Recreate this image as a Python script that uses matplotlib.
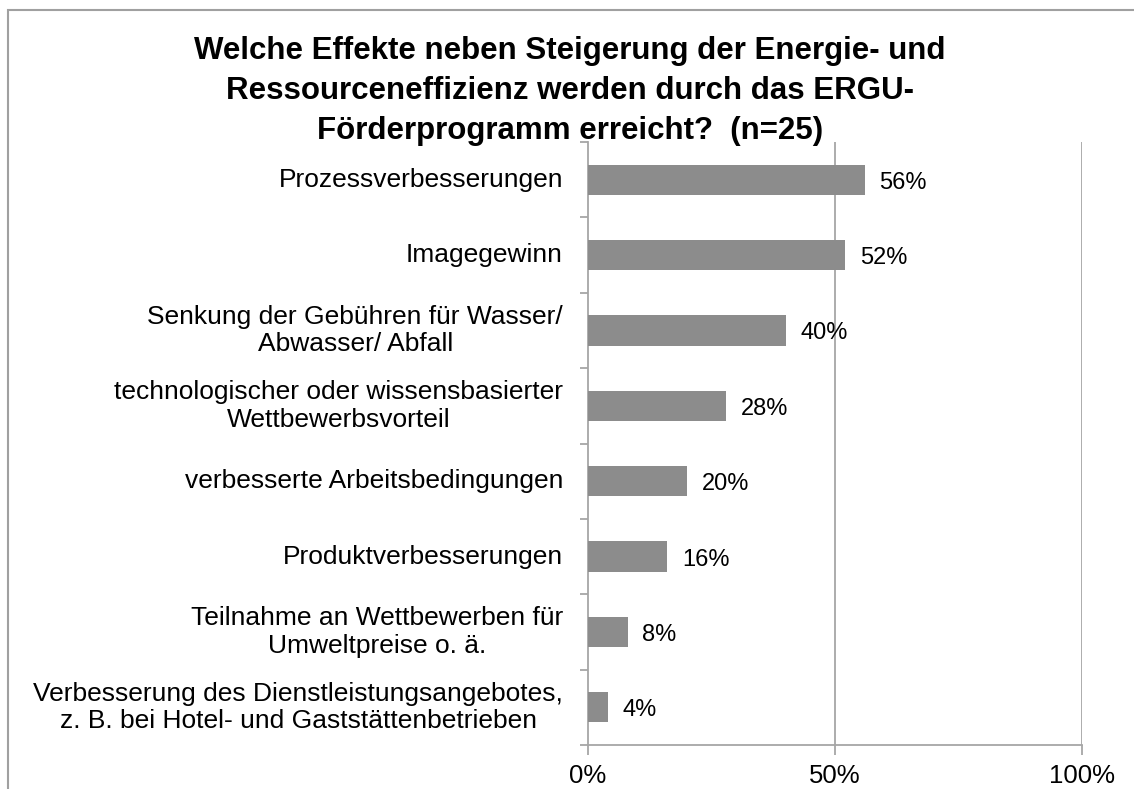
import matplotlib
matplotlib.use("Agg")
import matplotlib.pyplot as plt
from matplotlib.patches import Rectangle
from matplotlib.ticker import FixedLocator

categories = [
    "Prozessverbesserungen",
    "Imagegewinn",
    "Senkung der Gebühren für Wasser/\nAbwasser/ Abfall",
    "technologischer oder wissensbasierter\nWettbewerbsvorteil",
    "verbesserte Arbeitsbedingungen",
    "Produktverbesserungen",
    "Teilnahme an Wettbewerben für\nUmweltpreise o. ä.",
    "Verbesserung des Dienstleistungsangebotes,\nz. B. bei Hotel- und Gaststättenbetrieben",
]
values = [56, 52, 40, 28, 20, 16, 8, 4]
xticks = [0, 50, 100]
xticklabels = ["0%", "50%", "100%"]
title = ("Welche Effekte neben Steigerung der Energie- und\n"
         "Ressourceneffizienz werden durch das ERGU-\n"
         "Förderprogramm erreicht?  (n=25)")

plt.rcParams['font.family'] = ['Liberation Sans', 'DejaVu Sans']

W, H = 1134, 789
fig = plt.figure(figsize=(W / 100, H / 100), dpi=100)
ax = fig.add_axes([588 / W, 1 - 745 / H, (1082 - 588) / W, (745 - 142) / H])

n = len(categories)
ypos = list(range(n))
bar_color = "#8c8c8c"
grid_color = "#a6a6a6"

ax.barh(ypos, values, height=0.4, color=bar_color, zorder=3)
ax.set_ylim(n - 0.5, -0.5)
ax.set_xlim(0, 100)

for x in xticks[1:]:
    ax.axvline(x, color=grid_color, lw=1.3, zorder=1)

for spine in ["top", "right"]:
    ax.spines[spine].set_visible(False)
for spine in ["left", "bottom"]:
    ax.spines[spine].set_color(grid_color)
    ax.spines[spine].set_linewidth(1.3)

ax.set_xticks(xticks)
ax.set_xticklabels(xticklabels, fontsize=18.5)
ax.tick_params(axis="x", direction="out", length=7, width=1.3, color=grid_color, pad=7)

ax.set_yticks(ypos)
ax.set_yticklabels([])
ax.tick_params(axis="y", which="major", length=0)
ax.yaxis.set_minor_locator(FixedLocator([i - 0.5 for i in range(n + 1)]))
ax.tick_params(axis="y", which="minor", direction="out", length=6, width=1.3, color=grid_color)

for y, lab in zip(ypos, categories):
    ax.text(-25 / 4.94, y, lab, ha="right", va="center", multialignment="center",
            fontsize=19, linespacing=1.18)

for y, v in zip(ypos, values):
    ax.text(v + 3.0, y + 0.04, f"{v}%", ha="left", va="center", fontsize=17, zorder=4)

fig.text(570 / W, 1 - 91 / H, title, ha="center", va="center", fontsize=22.5,
         fontweight="bold", linespacing=1.42)

fig.patches.append(Rectangle((8 / W, -0.1), 1.2, (1 - 10 / H) + 0.1, transform=fig.transFigure,
                             fill=False, edgecolor="#a0a0a0", lw=1.5))

fig.savefig("out.png", dpi=100)
